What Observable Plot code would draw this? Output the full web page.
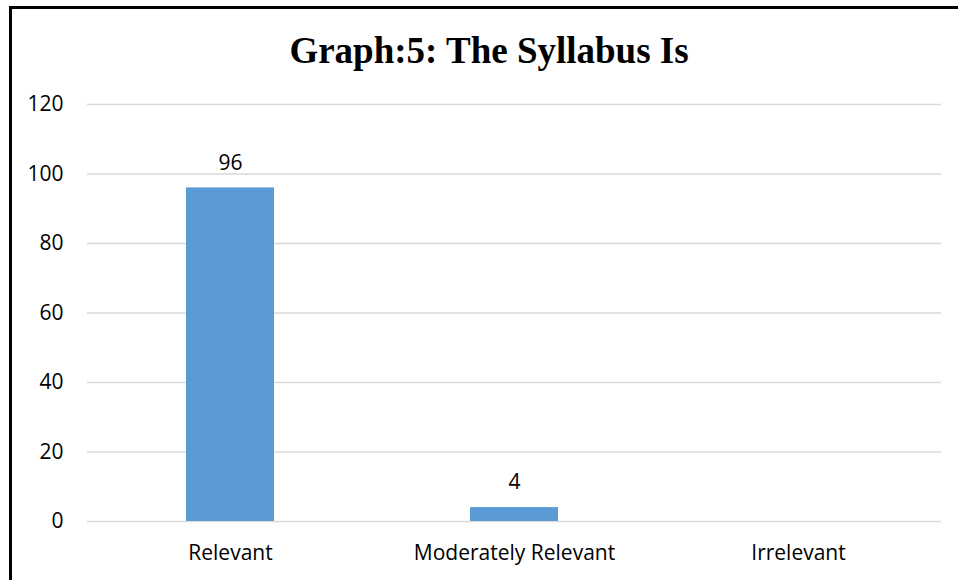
<!DOCTYPE html>
<html>
<head>
<meta charset="utf-8">
<script src="https://cdn.jsdelivr.net/npm/d3@7"></script>
<script src="https://cdn.jsdelivr.net/npm/@observablehq/plot@0.6"></script>
<style>
  html, body { margin: 0; padding: 0; background: #fff; }
  #wrap { position: relative; width: 958px; height: 580px; overflow: hidden; background: #fff; }
  #frame { position: absolute; left: 9px; top: 6px; width: 960px; height: 600px;
           border-top: 3px solid #000; border-left: 3px solid #000; box-sizing: border-box; }
  #title { position: absolute; left: 289px; width: 400px; top: 32px; text-align: center;
           font-family: "Liberation Serif", "Times New Roman", serif; font-weight: bold;
           font-size: 37px; line-height: 1; white-space: nowrap; color: #000; }
  #chart { position: absolute; left: 0; top: 80px; }
</style>
</head>
<body>
<div id="wrap">
  <div id="frame"></div>
  <div id="title">Graph:5: The Syllabus Is</div>
  <div id="chart"></div>
</div>
<script>
const categories = ["Relevant", "Moderately Relevant", "Irrelevant"];
const values = [96, 4, 0];
const yTicks = [0, 20, 40, 60, 80, 100, 120];

const data = categories.map((c, i) => ({ category: c, value: values[i] }));

const chart = Plot.plot({
  width: 958,
  height: 500,
  marginLeft: 87,
  marginRight: 17,
  marginTop: 24,
  marginBottom: 59,
  style: { fontFamily: "'Open Sans', sans-serif", fontSize: "21px", color: "#000", background: "transparent" },
  x: { domain: categories, padding: 0, label: null },
  y: { domain: [0, 120], label: null },
  marks: [
    Plot.ruleY(yTicks, { stroke: "#d9d9d9", strokeWidth: 1.5 }),
    Plot.barY(data, { x: "category", y: "value", fill: "#5B9BD5", insetLeft: 98, insetRight: 98 }),
    Plot.text(data.filter(d => d.value > 0), { x: "category", y: "value", text: d => String(d.value), dy: -25, fill: "#000", fontSize: 21 }),
    Plot.axisX({ tickSize: 0, tickPadding: 24, label: null, fontSize: 21 }),
    Plot.axisY({ ticks: yTicks, tickSize: 0, tickPadding: 24, label: null, fontSize: 21 })
  ]
});
document.getElementById("chart").appendChild(chart);
</script>
</body>
</html>
